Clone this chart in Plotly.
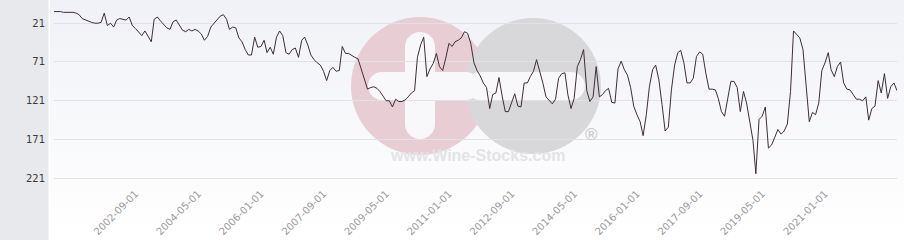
import pandas as pd
import plotly.graph_objects as go

# ---------------- data ----------------
first_month = "2000-07-01"
rank_values = [
    6, 6, 6, 7, 7, 7, 7, 8, 10, 15, 17, 18, 20, 21, 21, 20, 8, 24, 21, 26,
    17, 15, 16, 17, 13, 24, 28, 32, 37, 31, 38, 45, 16, 13, 18, 23, 27, 29, 19, 17,
    24, 30, 32, 29, 31, 29, 31, 35, 43, 38, 26, 21, 17, 12, 10, 16, 29, 26, 27, 40,
    45, 55, 62, 62, 39, 52, 51, 43, 59, 52, 61, 39, 31, 37, 59, 61, 55, 53, 65, 43, 39,
    49, 62, 68, 72, 75, 83, 95, 82, 78, 83, 82, 51, 60, 60, 63, 65, 67, 80, 94, 106,
    104, 103, 105, 109, 115, 121, 121, 129, 119, 122, 122, 120, 116, 111, 108, 65, 49, 39, 90, 80,
    73, 60, 77, 82, 66, 47, 51, 45, 43, 40, 32, 34, 47, 72, 82, 89, 98, 104, 131, 113,
    111, 91, 115, 135, 135, 122, 112, 128, 129, 98, 98, 90, 83, 68, 82, 98, 116, 120, 125, 119,
    92, 86, 85, 113, 131, 118, 77, 68, 55, 108, 122, 116, 77, 116, 113, 108, 105, 123, 124, 80,
    70, 81, 88, 104, 128, 139, 148, 166, 139, 103, 81, 75, 94, 126, 160, 155, 107, 75, 59, 56,
    72, 98, 98, 92, 64, 58, 61, 86, 106, 106, 107, 118, 135, 141, 118, 96, 96, 104, 135, 109,
    124, 151, 172, 215, 145, 141, 129, 182, 178, 168, 158, 164, 160, 151, 109, 31, 36, 40, 55, 100,
    148, 136, 139, 124, 82, 72, 59, 81, 90, 77, 71, 98, 106, 107, 113, 119, 119, 121, 116, 146,
    131, 128, 95, 111, 86, 118, 103, 98, 108,
]
x_tick_dates = ["2002-09-01", "2004-05-01", "2006-01-01", "2007-09-01", "2009-05-01",
                "2011-01-01", "2012-09-01", "2014-05-01", "2016-01-01", "2017-09-01",
                "2019-05-01", "2021-01-01"]
y_tick_values = [21, 71, 121, 171, 221]

dates = pd.date_range(first_month, periods=len(rank_values), freq="MS")

# ---------------- layout geometry helpers (pixels -> paper) ----------------
W, H = 904, 240
ML, MR, MT, MB = 54, 7, 0, 55
PW, PH = W - ML - MR, H - MT - MB


def px(x):
    return (x - ML) / PW


def py(y):
    return (H - MB - y) / PH


def rounded_bar(x0, y0, x1, y1):
    r = min(x1 - x0, y1 - y0) / 2
    k = 0.5523 * r
    pts = [
        ("M", [(x0 + r, y0)]),
        ("L", [(x1 - r, y0)]),
        ("C", [(x1 - r + k, y0), (x1, y0 + r - k), (x1, y0 + r)]),
        ("L", [(x1, y1 - r)]),
        ("C", [(x1, y1 - r + k), (x1 - r + k, y1), (x1 - r, y1)]),
        ("L", [(x0 + r, y1)]),
        ("C", [(x0 + r - k, y1), (x0, y1 - r + k), (x0, y1 - r)]),
        ("L", [(x0, y0 + r)]),
        ("C", [(x0, y0 + r - k), (x0 + r - k, y0), (x0 + r, y0)]),
    ]
    s = ""
    for cmd, pp in pts:
        s += cmd + " ".join(f"{px(a):.5f},{py(b):.5f}" for a, b in pp) + " "
    return s + "Z"


shapes = []
# left grey strip
shapes.append(dict(type="rect", xref="paper", yref="paper", layer="below",
                   x0=px(0), x1=px(48.5), y0=py(H), y1=py(0),
                   fillcolor="#e7e9ec", line=dict(width=0)))
# background gradient bands
nb = 30
top = (241, 242, 247)
for i in range(nb):
    t = i / (nb - 1)
    c = tuple(round(top[j] + (255 - top[j]) * t) for j in range(3))
    shapes.append(dict(type="rect", xref="paper", yref="paper", layer="below",
                       x0=px(50), x1=px(W), y0=py(i * H / nb + H / nb + 0.5), y1=py(i * H / nb),
                       fillcolor=f"rgb{c}", line=dict(width=0)))
# watermark
shapes.append(dict(type="circle", xref="paper", yref="paper", layer="below",
                   x0=px(351), x1=px(489), y0=py(155), y1=py(17),
                   fillcolor="#e9cdd4", line=dict(width=0)))
shapes.append(dict(type="circle", xref="paper", yref="paper", layer="below",
                   x0=px(465), x1=px(601), y0=py(154), y1=py(18),
                   fillcolor="#d8d8db", line=dict(width=0)))
for bar in [(405, 32, 435, 139), (368, 72, 480, 100), (466, 72, 585, 100)]:
    shapes.append(dict(type="path", xref="paper", yref="paper", layer="below",
                       path=rounded_bar(*bar), fillcolor="#f8f8fa", line=dict(width=0)))

annotations = [
    dict(text="<b>www.Wine-Stocks.com</b>", xref="paper", yref="paper",
         x=px(477), y=py(166), showarrow=False,
         font=dict(family="Liberation Sans, Arial", size=16, color="#e3e3e5")),
    dict(text="<b>®</b>", xref="paper", yref="paper",
         x=px(591), y=py(146), showarrow=False,
         font=dict(family="Liberation Sans, Arial", size=17, color="#cdcdcf")),
]

fig = go.Figure()
fig.add_trace(go.Scatter(x=dates, y=rank_values, mode="lines",
                         line=dict(color="#3f2d37", width=1), hoverinfo="skip"))

fig.update_layout(
    width=W, height=H,
    margin=dict(l=ML, r=MR, t=MT, b=MB, pad=0),
    paper_bgcolor="#ffffff",
    plot_bgcolor="rgba(0,0,0,0)",
    showlegend=False,
    shapes=shapes,
    annotations=annotations,
    font=dict(family="DejaVu Sans", size=10),
)
fig.update_xaxes(
    type="date",
    range=[dates[0], dates[-1]],
    tickvals=x_tick_dates,
    ticktext=x_tick_dates,
    tickangle=-45,
    showgrid=False, zeroline=False, showline=False, ticks="",
    tickfont=dict(family="DejaVu Sans", size=10, color="#9a9a9a"),
)
fig.update_yaxes(
    range=[229.6, -8.9],
    tickvals=y_tick_values,
    showgrid=True, gridcolor="#e2e2e4", gridwidth=1,
    zeroline=False, showline=False, ticks="",
    ticklabelstandoff=8,
    tickfont=dict(family="DejaVu Sans", size=10, color="#3a3a3a"),
)

fig.write_html("out.html")
